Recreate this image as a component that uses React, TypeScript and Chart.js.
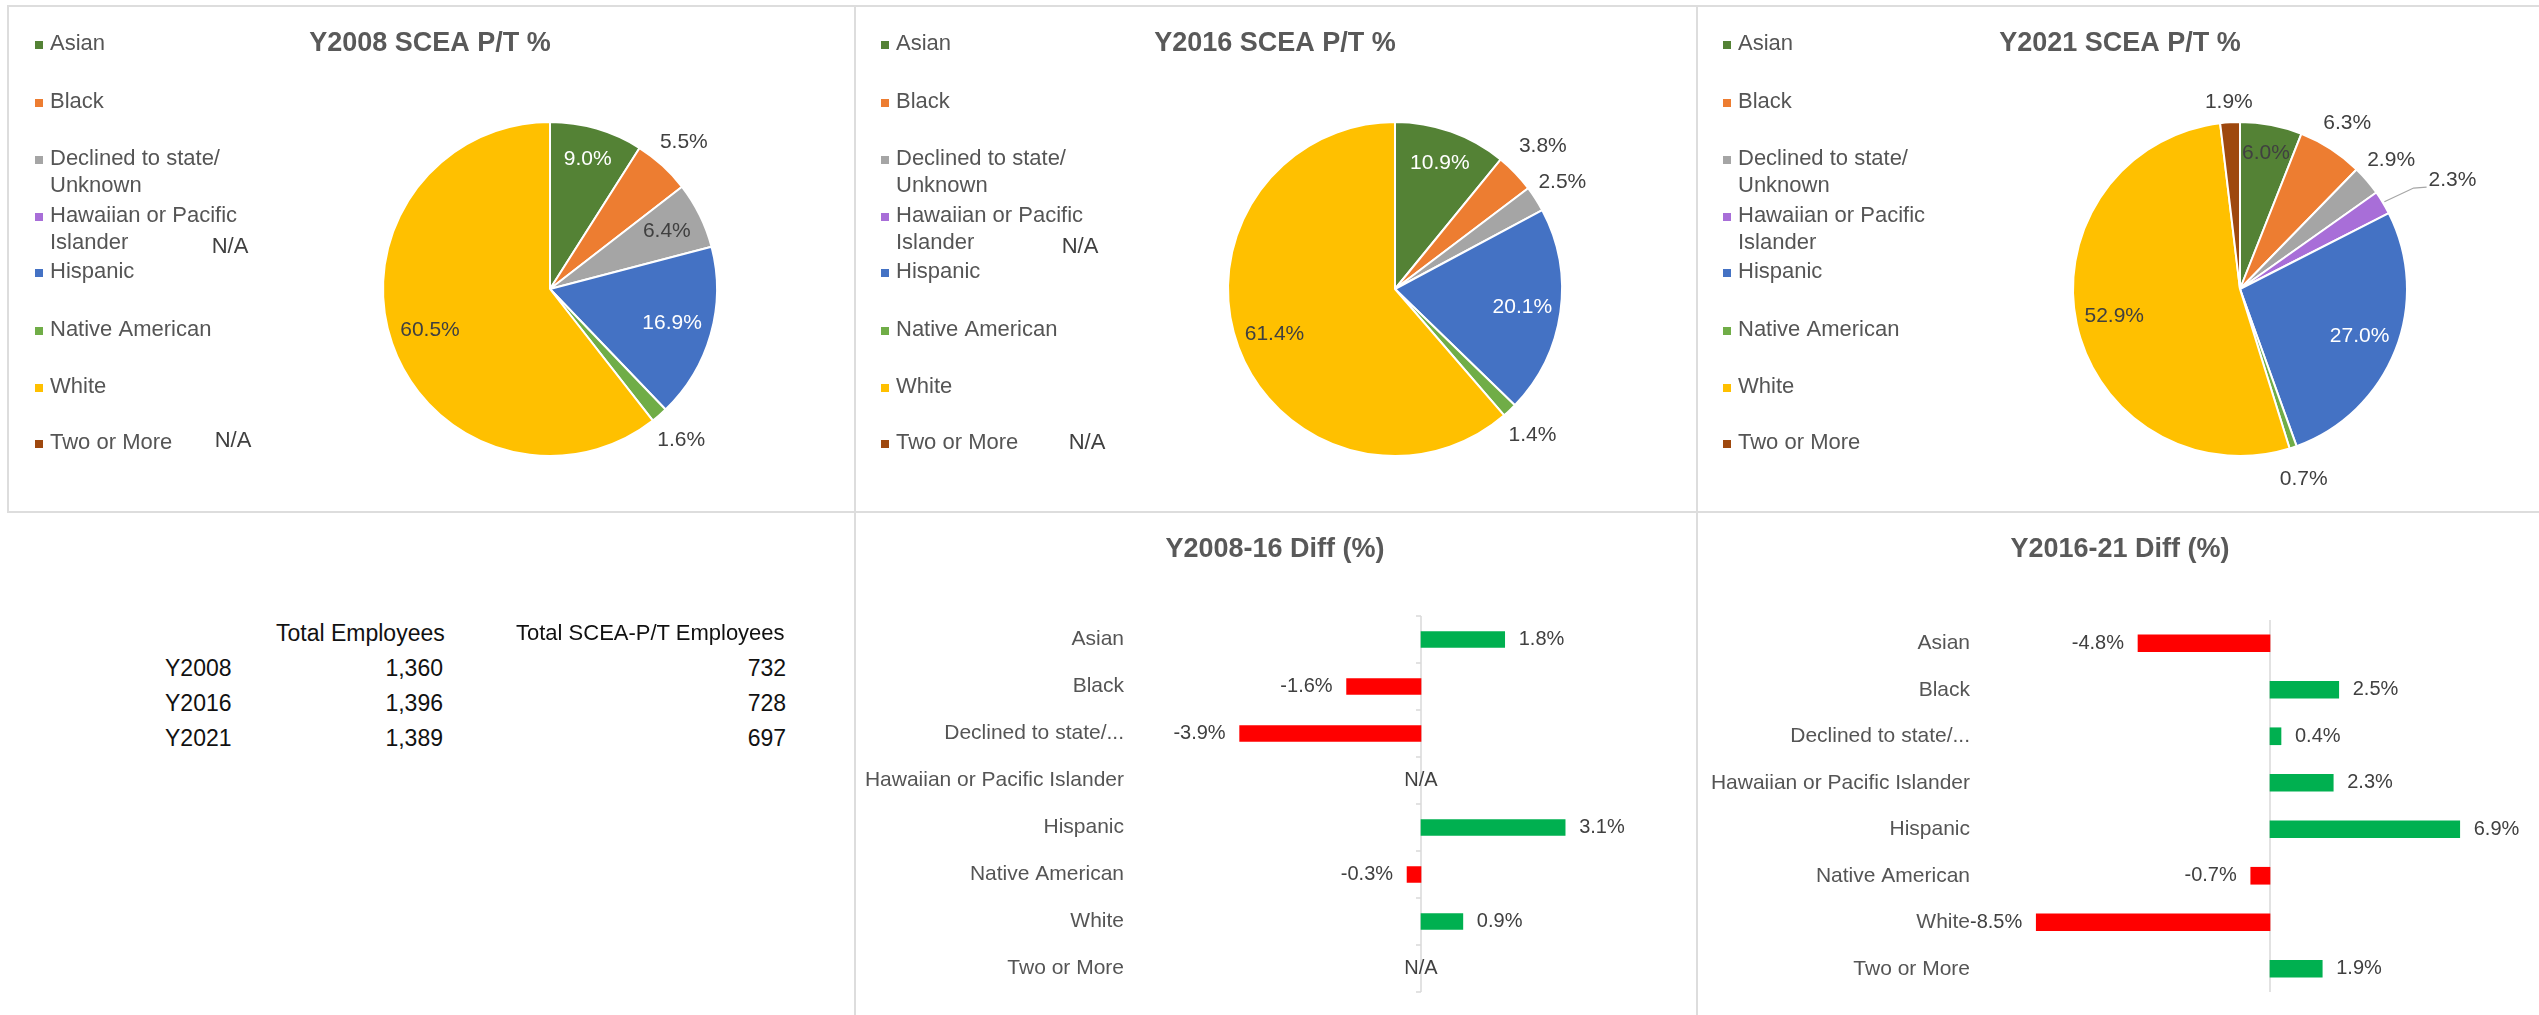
import React, { useEffect, useRef } from 'react';
import { Chart, registerables } from 'chart.js';

Chart.register(...registerables);

const FONT = '"Liberation Sans", Arial, sans-serif';

// ---------- data ----------
const categories = [
  'Asian',
  'Black',
  'Declined to state/ Unknown',
  'Hawaiian or Pacific Islander',
  'Hispanic',
  'Native American',
  'White',
  'Two or More',
];
const legendLines = [
  ['Asian'],
  ['Black'],
  ['Declined to state/', 'Unknown'],
  ['Hawaiian or Pacific', 'Islander'],
  ['Hispanic'],
  ['Native American'],
  ['White'],
  ['Two or More'],
];
const barTickLabels = [
  'Asian',
  'Black',
  'Declined to state/...',
  'Hawaiian or Pacific Islander',
  'Hispanic',
  'Native American',
  'White',
  'Two or More',
];
const sliceColors = ['#548235', '#ED7D31', '#A5A5A5', '#A86ED8', '#4472C4', '#70AD47', '#FFC000', '#9E480E'];

const pie2008: (number | null)[] = [9.0, 5.5, 6.4, null, 16.9, 1.6, 60.5, null];
const pie2016: (number | null)[] = [10.9, 3.8, 2.5, null, 20.1, 1.4, 61.4, null];
const pie2021: (number | null)[] = [6.0, 6.3, 2.9, 2.3, 27.0, 0.7, 52.9, 1.9];

const diff0816: (number | null)[] = [1.8, -1.6, -3.9, null, 3.1, -0.3, 0.9, null];
const diff1621: (number | null)[] = [-4.8, 2.5, 0.4, 2.3, 6.9, -0.7, -8.5, 1.9];

const tableYears = ['Y2008', 'Y2016', 'Y2021'];
const totalEmployees = [1360, 1396, 1389];
const totalSceaPt = [732, 728, 697];

const fmtPct = (v: number) => v.toFixed(1) + '%';

// ---------- plugins ----------
const LEGEND_ROWS = [44, 102, 159, 216, 272, 330, 387, 443];

const decorPlugin = {
  id: 'decor',
  afterDraw(chart: any, _a: any, o: any) {
    const ctx = chart.ctx;
    ctx.save();
    ctx.textBaseline = 'middle';
    if (o.title) {
      ctx.font = 'bold 27px ' + FONT;
      ctx.fillStyle = '#595959';
      ctx.textAlign = 'center';
      ctx.fillText(o.title, o.titleX, o.titleY);
    }
    if (o.legendX != null) {
      ctx.font = '22px ' + FONT;
      legendLines.forEach((lines, i) => {
        const y = LEGEND_ROWS[i];
        ctx.fillStyle = sliceColors[i];
        ctx.fillRect(o.legendX - 15, y - 3, 8, 8);
        ctx.fillStyle = '#555555';
        ctx.textAlign = 'left';
        lines.forEach((t, k) => ctx.fillText(t, o.legendX, y + k * 27));
      });
    }
    if (o.na) {
      ctx.font = '22px ' + FONT;
      ctx.fillStyle = '#404040';
      ctx.textAlign = 'center';
      o.na.forEach((p: any) => ctx.fillText('N/A', p.x, p.y));
    }
    ctx.restore();
  },
};

const pieLabelPlugin = {
  id: 'pieLabels',
  afterDatasetsDraw(chart: any, _a: any, o: any) {
    const ctx = chart.ctx;
    const meta = chart.getDatasetMeta(0);
    ctx.save();
    ctx.font = '21px ' + FONT;
    ctx.textBaseline = 'middle';
    ctx.textAlign = 'center';
    meta.data.forEach((arc: any, i: number) => {
      const v = o.values[i];
      if (v == null) return;
      const p = arc.getProps(['x', 'y', 'startAngle', 'endAngle', 'outerRadius'], true);
      const mid = (p.startAngle + p.endAngle) / 2;
      const R = p.outerRadius;
      const text = fmtPct(v);
      if (o.leader && o.leader.index === i) {
        const a = mid + (o.leader.shiftDeg * Math.PI) / 180;
        const lx = p.x + Math.cos(a) * R * o.leader.dist;
        const ly = p.y + Math.sin(a) * R * o.leader.dist;
        const w = ctx.measureText(text).width;
        const left = lx - w / 2;
        const sx = p.x + Math.cos(mid) * R * 1.01;
        const sy = p.y + Math.sin(mid) * R * 1.01;
        ctx.strokeStyle = '#A6A6A6';
        ctx.lineWidth = 1.2;
        ctx.beginPath();
        ctx.moveTo(sx, sy);
        ctx.lineTo(left - 15, ly + 8);
        ctx.lineTo(left - 2, ly + 7);
        ctx.stroke();
        ctx.fillStyle = o.colors[i];
        ctx.fillText(text, lx, ly);
        return;
      }
      const f = o.radial[i];
      ctx.fillStyle = o.colors[i];
      ctx.fillText(text, p.x + Math.cos(mid) * R * f, p.y + Math.sin(mid) * R * f);
    });
    ctx.restore();
  },
};

const barLabelPlugin = {
  id: 'barLabels',
  beforeDatasetsDraw(chart: any, _a: any, o: any) {
    const ctx = chart.ctx;
    const xs = chart.scales.x;
    const ys = chart.scales.y;
    const zx = xs.getPixelForValue(0);
    const { top, bottom } = chart.chartArea;
    ctx.save();
    ctx.strokeStyle = '#D9D9D9';
    ctx.lineWidth = 1.5;
    ctx.beginPath();
    ctx.moveTo(zx, top);
    ctx.lineTo(zx, bottom);
    if (o.axisTicks) {
      for (let i = 0; i <= o.values.length; i++) {
        const y = ys.getPixelForValue(i - 0.5);
        ctx.moveTo(zx - 5, y);
        ctx.lineTo(zx, y);
      }
    }
    ctx.stroke();
    ctx.restore();
  },
  afterDatasetsDraw(chart: any, _a: any, o: any) {
    const ctx = chart.ctx;
    const xs = chart.scales.x;
    const ys = chart.scales.y;
    const zx = xs.getPixelForValue(0);
    ctx.save();
    ctx.font = '20px ' + FONT;
    ctx.fillStyle = '#404040';
    ctx.textBaseline = 'middle';
    o.values.forEach((v: number | null, i: number) => {
      const y = ys.getPixelForValue(i);
      if (v == null) {
        ctx.textAlign = 'center';
        ctx.fillText('N/A', zx, y);
        return;
      }
      const xe = xs.getPixelForValue(v);
      if (v >= 0) {
        ctx.textAlign = 'left';
        ctx.fillText(fmtPct(v), xe + 14, y);
      } else {
        ctx.textAlign = 'right';
        ctx.fillText(fmtPct(v), xe - 14, y);
      }
    });
    ctx.restore();
  },
};

// ---------- components ----------
function PieChart(props: any) {
  const { x0, width, height, values, title, titleX, cx, cy, r, radial, labelColors, leader, na, legendX } = props;
  const ref = useRef<HTMLCanvasElement>(null);
  useEffect(() => {
    const chart = new Chart(ref.current as HTMLCanvasElement, {
      type: 'pie',
      data: {
        labels: categories,
        datasets: [
          {
            data: values.map((v: number | null) => (v == null ? 0 : v)),
            backgroundColor: sliceColors,
            borderColor: '#ffffff',
            borderWidth: 2,
            radius: r,
          } as any,
        ],
      },
      options: {
        responsive: false,
        animation: false,
        events: [],
        layout: {
          padding: {
            left: cx - x0 - 200,
            right: x0 + width - cx - 200,
            top: cy - 200,
            bottom: height - cy - 200,
          },
        },
        plugins: {
          legend: { display: false },
          tooltip: { enabled: false },
          title: { display: false },
          pieLabels: { values, radial, colors: labelColors, leader },
          decor: {
            title,
            titleX: titleX - x0,
            titleY: 44,
            legendX: legendX - x0,
            na: na ? na.map((p: any) => ({ x: p.x - x0, y: p.y })) : null,
          },
        } as any,
      },
      plugins: [pieLabelPlugin, decorPlugin],
    });
    return () => chart.destroy();
  }, []);
  return (
    <canvas
      ref={ref}
      width={width}
      height={height}
      style={{ position: 'absolute', left: x0, top: 0, width, height }}
    />
  );
}

function DiffChart(props: any) {
  const { x0, y0, width, height, values, title, titleX, zeroX, pxPerPct, min, max, plotTop, plotBottom, tickPad, barThickness, axisTicks } = props;
  const ref = useRef<HTMLCanvasElement>(null);
  useEffect(() => {
    const plotLeft = zeroX + min * pxPerPct;
    const plotRight = zeroX + max * pxPerPct;
    const chart = new Chart(ref.current as HTMLCanvasElement, {
      type: 'bar',
      data: {
        labels: barTickLabels,
        datasets: [
          {
            data: values,
            backgroundColor: values.map((v: number | null) => (v != null && v < 0 ? '#FF0000' : '#00B050')),
            barThickness,
          } as any,
        ],
      },
      options: {
        indexAxis: 'y',
        responsive: false,
        animation: false,
        events: [],
        layout: {
          padding: { left: 0, right: x0 + width - plotRight, top: plotTop - y0, bottom: y0 + height - plotBottom },
        },
        scales: {
          x: { type: 'linear', min, max, display: false },
          y: {
            type: 'category',
            grid: { display: false, drawTicks: false },
            border: { display: false },
            ticks: { color: '#555555', font: { family: FONT, size: 21 }, padding: tickPad, autoSkip: false },
            afterFit: (s: any) => {
              s.width = plotLeft - x0;
              s.paddingTop = 0;
              s.paddingBottom = 0;
            },
          },
        },
        plugins: {
          legend: { display: false },
          tooltip: { enabled: false },
          title: { display: false },
          barLabels: { values, axisTicks },
          decor: { title, titleX: titleX - x0, titleY: 38 },
        } as any,
      },
      plugins: [barLabelPlugin, decorPlugin],
    });
    return () => chart.destroy();
  }, []);
  return (
    <canvas
      ref={ref}
      width={width}
      height={height}
      style={{ position: 'absolute', left: x0, top: y0, width, height }}
    />
  );
}

const lineStyle = (left: number, top: number, width: number, height: number): React.CSSProperties => ({
  position: 'absolute',
  left,
  top,
  width,
  height,
  background: '#DDDDDD',
  zIndex: 2,
});

const txt = (left: number, y: number, text: string, align: 'left' | 'right' = 'left', size = 23) => {
  const w = 400;
  return (
    <div
      key={text + left + y}
      style={{
        position: 'absolute',
        left: align === 'left' ? left : left - w,
        top: y - 13,
        width: w,
        height: 26,
        lineHeight: '26px',
        textAlign: align,
        font: size + 'px ' + FONT,
        color: '#111111',
        whiteSpace: 'nowrap',
      }}
    >
      {text}
    </div>
  );
};

export default function App() {
  const fmtInt = (n: number) => n.toLocaleString('en-US');
  return (
    <div
      style={{
        position: 'absolute',
        left: 0,
        top: 0,
        width: 2539,
        height: 1015,
        background: '#ffffff',
        overflow: 'hidden',
      }}
    >
      <PieChart
        x0={0}
        width={855}
        height={512}
        values={pie2008}
        title="Y2008 SCEA P/T %"
        titleX={430}
        cx={550}
        cy={289}
        r={167}
        radial={[0.81, 1.19, 0.78, 0, 0.76, 1.2, 0.76, 0]}
        labelColors={['#ffffff', '#404040', '#404040', '#404040', '#ffffff', '#404040', '#404040', '#404040']}
        legendX={50}
        na={[
          { x: 230, y: 247 },
          { x: 233, y: 441 },
        ]}
      />
      <PieChart
        x0={855}
        width={842}
        height={512}
        values={pie2016}
        title="Y2016 SCEA P/T %"
        titleX={1275}
        cx={1395}
        cy={289}
        r={167}
        radial={[0.8, 1.23, 1.19, 0, 0.77, 1.2, 0.77, 0]}
        labelColors={['#ffffff', '#404040', '#404040', '#404040', '#ffffff', '#404040', '#404040', '#404040']}
        legendX={896}
        na={[
          { x: 1080, y: 247 },
          { x: 1087, y: 443 },
        ]}
      />
      <PieChart
        x0={1697}
        width={842}
        height={512}
        values={pie2021}
        title="Y2021 SCEA P/T %"
        titleX={2120}
        cx={2240}
        cy={289}
        r={167}
        radial={[0.83, 1.18, 1.19, 1.4, 0.77, 1.2, 0.77, 1.12]}
        labelColors={['#404040', '#404040', '#404040', '#404040', '#ffffff', '#404040', '#404040', '#404040']}
        leader={{ index: 3, dist: 1.43, shiftDeg: 4 }}
        legendX={1738}
      />
      <DiffChart
        x0={855}
        y0={512}
        width={842}
        height={503}
        values={diff0816}
        title="Y2008-16 Diff (%)"
        titleX={1275}
        zeroX={1421}
        pxPerPct={46.5}
        min={-6}
        max={5.5}
        plotTop={616}
        plotBottom={992}
        tickPad={18}
        barThickness={16}
        axisTicks={true}
      />
      <DiffChart
        x0={1697}
        y0={512}
        width={842}
        height={503}
        values={diff1621}
        title="Y2016-21 Diff (%)"
        titleX={2120}
        zeroX={2270}
        pxPerPct={27.5}
        min={-10}
        max={8}
        plotTop={620}
        plotBottom={992}
        tickPad={25}
        barThickness={17}
        axisTicks={false}
      />
      {/* summary table */}
      {txt(276, 633, 'Total Employees')}
      {txt(516, 633, 'Total SCEA-P/T Employees', 'left', 22)}
      {tableYears.map((y, i) => txt(165, 668 + i * 35, y))}
      {totalEmployees.map((n, i) => txt(443, 668 + i * 35, fmtInt(n), 'right'))}
      {totalSceaPt.map((n, i) => txt(786, 668 + i * 35, fmtInt(n), 'right'))}
      {/* panel borders */}
      <div style={lineStyle(8, 5, 2531, 2)} />
      <div style={lineStyle(7, 5, 2, 508)} />
      <div style={lineStyle(854, 5, 2, 1010)} />
      <div style={lineStyle(1696, 5, 2, 1010)} />
      <div style={lineStyle(8, 511, 2531, 2)} />
    </div>
  );
}
